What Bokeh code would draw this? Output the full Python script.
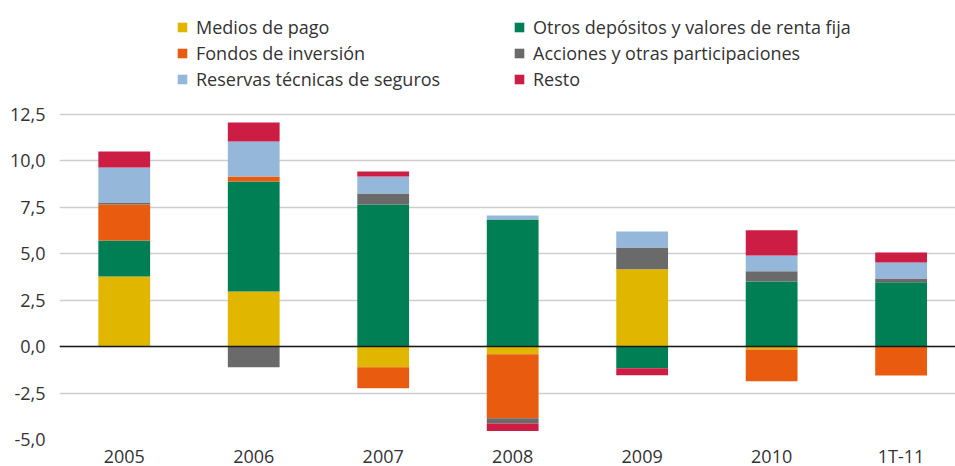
from bokeh.plotting import figure
from bokeh.models import Range1d, FixedTicker, Legend, LegendItem, Span, ColumnDataSource
from bokeh.embed import file_html
from bokeh.resources import INLINE

categories = ["2005", "2006", "2007", "2008", "2009", "2010", "1T-11"]

medios_de_pago = [3.78, 2.97, -1.11, -0.41, 4.16, -0.15, 0.0]
otros_depositos = [1.93, 5.92, 7.65, 6.84, -1.17, 3.51, 3.46]
fondos_inversion = [1.94, 0.27, -1.13, -3.44, 0.0, -1.72, -1.56]
acciones = [0.11, -1.11, 0.59, -0.29, 1.18, 0.54, 0.21]
reservas_tecnicas = [1.88, 1.88, 0.92, 0.22, 0.86, 0.86, 0.86]
resto = [0.86, 1.02, 0.27, -0.40, -0.37, 1.35, 0.54]

series_names = ["Medios de pago", "Otros depósitos y valores de renta fija",
                "Fondos de inversión", "Acciones y otras participaciones",
                "Reservas técnicas de seguros", "Resto"]
series_values = [medios_de_pago, otros_depositos, fondos_inversion, acciones,
                 reservas_tecnicas, resto]
colors = ["#E0B600", "#007F54", "#E95C0F", "#6A6A6A", "#95B7D9", "#CC1D44"]

y_ticks = [-5.0, -2.5, 0.0, 2.5, 5.0, 7.5, 10.0, 12.5]

FONT = "Open Sans"
TXT = "#333333"

# frame spans the whole top of the page; the legend sits inside it, above the 12,5 line
p = figure(frame_width=896, frame_height=439, output_backend="svg", toolbar_location=None,
           x_range=Range1d(-0.5, 6.42), y_range=Range1d(-5, 18.63),
           min_border_left=59, min_border_right=0, min_border_top=0,
           min_border_bottom=0)
p.outline_line_color = None
p.background_fill_color = "white"

# axes
p.xaxis.ticker = FixedTicker(ticks=list(range(len(categories))))
p.xaxis.major_label_overrides = {i: c for i, c in enumerate(categories)}
p.yaxis.ticker = FixedTicker(ticks=y_ticks)
p.yaxis.major_label_overrides = {t: (f"{t:.1f}").replace(".", ",") for t in y_ticks}
for ax in (p.xaxis[0], p.yaxis[0]):
    ax.axis_line_color = None
    ax.major_tick_line_color = None
    ax.minor_tick_line_color = None
    ax.major_tick_out = 0
    ax.major_tick_in = 0
    ax.major_label_text_font = FONT
    ax.major_label_text_font_size = "18px"
    ax.major_label_text_color = TXT
p.yaxis.major_label_standoff = 14
p.xaxis.major_label_standoff = 4
p.xgrid.grid_line_color = None
p.ygrid.ticker = FixedTicker(ticks=y_ticks)
p.ygrid.grid_line_color = "#CDCDCD"
p.ygrid.grid_line_width = 1.5

# stacked bars (positives and negatives stacked separately)
n = len(categories)
pos_base = [0.0] * n
neg_base = [0.0] * n
renderers = {}
for name, vals, col in zip(series_names, series_values, colors):
    xs, bottoms, tops = [], [], []
    for i, v in enumerate(vals):
        if v >= 0:
            b, t = pos_base[i], pos_base[i] + v
            pos_base[i] = t
        else:
            b, t = neg_base[i] + v, neg_base[i]
            neg_base[i] = b
        xs.append(i)
        bottoms.append(b)
        tops.append(t)
    src = ColumnDataSource(dict(x=xs, bottom=bottoms, top=tops))
    r = p.vbar(x="x", bottom="bottom", top="top", width=0.4, source=src,
               fill_color=col, line_color=None)
    renderers[name] = r

p.add_layout(Span(location=0, dimension="width", line_color="#1a1a1a", line_width=1.5))

order = ["Medios de pago", "Fondos de inversión", "Reservas técnicas de seguros",
         "Otros depósitos y valores de renta fija", "Acciones y otras participaciones", "Resto"]
legend = Legend(items=[LegendItem(label=nm, renderers=[renderers[nm]]) for nm in order],
                location=(117, 348), orientation="vertical", ncols=2,
                glyph_width=12, glyph_height=12, label_standoff=8,
                label_width=315, spacing=2, padding=0, margin=0,
                label_text_font=FONT, label_text_font_size="18px",
                label_text_color=TXT, background_fill_alpha=0,
                border_line_color=None)
p.add_layout(legend, "center")

open("out.html", "w").write(file_html(p, INLINE))
